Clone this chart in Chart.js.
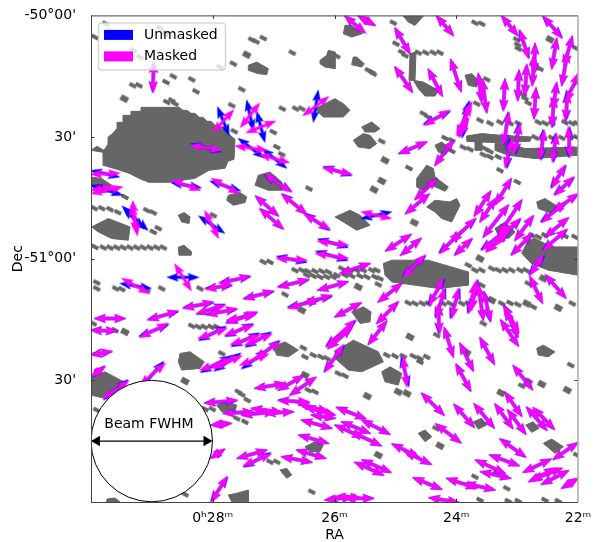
<!DOCTYPE html>
<html><head><meta charset="utf-8">
<script src="https://cdn.jsdelivr.net/npm/chart.js@4"></script>
<style>html,body{margin:0;padding:0;background:#fff}canvas{display:block}</style>
</head><body><canvas id="c" width="596" height="542"></canvas>
<script>
// Map units: 0..487 across the field on each axis; 121.75 units = 2m of RA = 30' of Dec.
const raTickValues=[121.75,243.5,365.25,487];
const raTickLabels=['0ʰ28ᵐ','26ᵐ','24ᵐ','22ᵐ'];
const decTickValues=[0,121.75,243.5,365.25];
const decTickLabels=["-50°00'","30'","-51°00'","30'"];
// polarisation vectors: [x1,y1,x2,y2,rotation of the unmasked vector relative to the masked one, degrees]
const vectors=[
[62.3,46.7,62.3,76.7,3],[142.3,95,122.3,116.7,-65],[168.3,88.3,149.7,111.7,-51],[184,106,155.7,117.3,-83],
[100,130,130,135,5],[144.7,130.7,175.7,135,29],[169,139.3,198,147.3,23],[232.3,152.7,260.7,159,5],
[0,159,28.3,158,15],[0.7,178.3,31.3,171.7,30],[0,175,22,171.7,22],[41.7,186,46.3,220,-39],[40,190,45.7,216.7,-32],
[81.3,165,109,175,-10],[120.7,163.3,148,178.3,-11],[114,196,127.3,222.7,-30],[174,159,200,176.7,-3],
[164.7,181,187.3,200.7,0],[169,194,192.3,213.3,2],[190.7,179.3,215.7,198.3,3],[213.3,199.3,239,214,5],
[212.3,100,237.3,81.7,-45],[227,226,257,230,8],[224.7,238.3,257,243,8],
[254,0.7,274,17.3,0],[267.3,0.7,284,10,0],[345.7,0.7,362.3,20,0],[304,12.7,319,38.3,0],[304,51.7,321.3,76.7,0],
[337.3,54,351.3,80.7,0],[359.7,44.3,370,76,0],[387.3,58.3,390.7,86.7,0],[391.3,64,395.7,97.3,0],[414,64,412.3,95,0],
[410.7,0.7,426.7,20,0],[429,15,437.3,42.7,-3],[452.3,0.7,470.7,22.7,-3],[444,28.3,443.3,58.3,0],[443,40,441.3,70,0],
[435.7,49.3,434,80,0],[428,55,426.7,85,0],[445,72.7,443,103.3,0],[465.7,23.3,460.7,53.3,0],[481.3,21,473.3,50,0],
[476.7,36.7,470.7,70,0],[465.7,67.3,462.3,93.3,0],[463.3,81.7,460.7,111.7,-2],[477.3,77.3,474,105,-5],[486.7,58.3,475.7,86.7,10],
[358.3,95,333.3,110,5],[380.7,86.7,365.7,120,-8],[378.7,90,369,121.7,-8],[377.3,103.3,367.3,120,0],[362.3,125,344,150,0],
[335.7,126.7,308,138.3,0],[418,97.3,412.3,129.3,-3],[429,108.3,423.3,138.3,-5],[420.7,124,414,152.3,-8],[453.3,115,449,144,-5],
[465.7,118.3,461.3,146.7,-5],[477.3,111.7,479,141.7,5],[474,150,460.7,172.7,5],[482.3,161.7,464,180,5],[345.7,163.3,324,184.3,0],
[338,179,314.7,198.3,0],[270.7,196.7,300,203.3,-25],[320,219.3,294.7,235.7,0],[330,223.3,309.7,240,0],[420,163.3,404.7,189.3,2],
[399.7,176,383.3,200.7,0],[404.7,183.3,389,206.7,0],[486.7,178.3,462.3,196.7,3],[474,186.7,450.7,207.3,5],
[417.3,190,392.3,221.7,0],[430.7,185,407.3,220,0],[429,203.3,404,230,3],[442.3,200.7,424,225,0],[420.7,210,390.7,235,3],
[417.3,216.7,395.7,236.7,3],[384,203.3,360.7,226.7,3],[380.7,223.3,364,240,3],[440.7,218.3,420.7,240,3],[477.3,202.7,454,221.7,0],
[475.7,214,452.3,235,3],[369,216.7,349,238.3,5],[334,240,312.3,261.7,3],[279,248.3,249,258.3,0],[256.7,266.7,227,275,0],
[310.7,268.3,287.3,286.7,0],[307.3,286.7,285.7,308.3,0],[295.7,306,277.3,329.3,0],[270,287.7,244,301.7,0],[264,305,235.7,331.7,3],
[260.7,312.7,237,333.3,0],[252.3,330,234,356.7,3],[352.3,263.3,338.3,290,5],[353.3,273.3,345.7,302.7,5],[346.7,290,349,318.3,5],
[367.3,273.3,360.7,303.3,6],[385.7,265,380.7,295,5],[387.3,270,392.3,305,0],[384,268,378,298,5],[392.3,276.7,400,306,3],
[412.3,290,428,317.3,2],[414,295,427.3,321.7,2],[409.7,305,427.3,330.7,0],[353.3,312.7,362.3,341.7,0],[369,328.3,382.3,355.7,0],
[389,322.7,403.3,349,0],[364.7,349.3,380,375.7,2],[312.3,341.7,315.7,371.7,-8],[422.3,350.7,441.3,374.3,0],[330.7,378.3,353,400,0],
[363,389.3,383.3,412.3,0],[383.3,389,403,412.7,0],[414,377.3,430.7,401,0],[404,389,421.7,413.3,0],[416.7,395,434.7,419,0],
[435.7,392.3,455.7,415,0],[442.3,392.7,463.3,414.3,0],[454.7,260,474.7,282.7,0],[439,261.7,451.3,287.7,0],[452.3,240,439,260,6],
[245.7,392.7,274.7,403.3,2],[250.7,406.7,279,418.3,0],[270.7,405,299,419.3,0],[244,410,272,422.7,0],[260.7,416.7,290,430.7,0],
[345,409,369.7,427.7,0],[409,424.3,434.7,441.7,2],[301.3,429,327.3,441.7,0],[314,436.7,340,449.3,0],[399,440,428,450.7,0],
[384.7,445,414,458.3,0],[389.7,456.7,419.7,463.3,0],[264,447.3,292.3,460,0],[271.3,445,299.7,457.3,0],[322.3,462.7,350.7,474.3,0],
[355.7,463.3,385.7,473.3,0],[374,468.3,404,475,0],[432.3,457.3,460,444,0],[486.7,427.7,462.3,444.3,0],[438,466.7,464,453.3,0],
[450.7,469.3,477.3,455.7,0],[440.7,465,470.7,453.3,0],[470.7,473.3,487,463.3,0],[244,481.7,270,483,0],[254,483.3,282.3,483.3,0],
[338.3,482.7,367.3,487.3,0],[234,485,262,482,0],
[84,249.3,100,275,-58],[31.3,263.3,58,278.3,-20],[114.7,274.3,140.7,269.3,5],[129,268.3,159,260.7,3],[187.3,272.3,217.3,264,3],
[153,284,182.3,275.7,3],[197.3,293.3,227.3,284,5],[214,288.3,240.7,280,5],[185.7,243.3,215.7,245,8],[92.3,293.3,122.3,286.7,3],
[105.7,298.3,134,290,-3],[115.7,300,145.7,293.3,3],[135.7,308.3,165.7,296.7,3],[135.7,305,164,300,-5],[57.3,305,86.7,295.7,3],
[4,303.3,34,303.3,0],[0,315,25.7,316,0],[49,322.3,76.7,308.3,5],[107.3,323.3,135.7,313.3,-8],[134,320,162.3,310,-5],
[139.7,329.3,169,320,-8],[154,330,180.7,319,-8],[109,355,140.7,343.3,-8],[122.3,353.3,150.7,340.7,-10],[149,350,177.3,339,-15],
[164,343.3,189,326.7,-5],[0,340,20.7,336,3],[0,361.7,14,351.7,-5],[49,370,74,348.3,-8],[12.3,383.3,37.3,366,-5],
[164,373.3,194,368.3,0],[187.3,375,212.3,360.7,0],[199,380,224.7,362.3,0],[114,388.3,145.7,385,2],[187.3,385.7,218,386.7,3],
[207.3,388.3,237.3,396.7,0],[214,391.7,244,400,0],[132.3,398.3,162.3,396.7,0],[150.7,400,184,396.7,0],[160.7,393.3,190.7,397.3,0],
[174,398.3,202.3,396.7,0],[210.7,405,240.7,413.3,0],[220.7,400,244,403.3,0],[208,420,237.3,428.3,0],[205.7,435,234.7,443.3,0],
[190.7,441.7,220.7,447.3,0],[146.3,443.3,175.7,435,0],[152.3,450.7,180,439,-5],[120,410,140,408.3,0],[120,443.3,133.3,434,3],
[120.7,486.7,135.7,461.7,4]
];
// small mask cells, [x,y]
const maskCells=[
[4,21.7],[14.7,8.3],[41.7,70],[48,70],[82.3,61],[75,66.7],[100.7,64],[105,76],[150.7,74],[140.7,90],[201.3,37.3],[172.3,22.7],
[142.3,48.3],[129,51.7],[191.3,93.3],[204.7,93.3],[210.7,93.3],[182.3,116.7],[143.3,116],[185.7,131.7],[190.7,139],[218,173.3],
[34,181.7],[3.3,193],[10.7,193],[19,194],[26.7,197],[62.3,197.3],[55.7,195],[67.3,213],[62.3,216.7],[122.3,200],
[4,231.7],[12.3,232.3],[19,232.3],[25.7,232.3],[32.3,232.3],[39,232.3],[45.7,232.3],[52.3,232.3],[59,232.3],[65.7,232.3],[72.3,232.3],
[160.7,24.3],[165,26],[80.7,85],[75.7,86.7],[84,88.3],[69,12.7],[74,18.3],[42.3,35],[49,41.7],
[302.3,7.3],[384,7.3],[390.7,8.3],[305,28.3],[310.7,36.7],[327.3,37.3],[334.7,37.3],[342.3,37.3],[349,37.3],[314,40],
[277.3,55],[280.7,56.7],[282.3,58.3],[245.7,40.7],[425.7,24],[426.7,29.3],[427.3,33.3],[484.7,32.7],[449,53.3],[445,52],
[432.3,79.3],[437.3,87.7],[434,83],[385.7,88.3],[395.7,64],[332.3,98.3],[337.3,101.7],[290.7,126],[318,152.7],[409,155],[426.3,166.7],
[389,105],[399,108],[409,107],[419,108],[427.3,108],[447.3,107],[454,108],[460.7,108],[474,107],[480.7,108],[485.7,108],
[444,122],[452.3,122],[460.7,122.5],[470.7,122.5],[479,122],[485.7,122],[354,122.7],[360.7,125],[372.3,132],[379,134],[360.7,135.7],
[394,133.3],[399,136],[392.3,139.3],[399,141.7],[407.3,141.7],[440.7,220],[447.3,221.7],[454,220],[474,220.7],[484,221.7],
[204,255],[210.7,255],[216.7,256],[224,256],[230.7,256],[237.3,256.7],[215.7,260],[222.3,260.7],[229,261.7],[235.7,261.7],[242.3,261.7],
[250.7,253.3],[259,255],[265.7,255],[272.3,255],[280.7,255],[285.7,255],[245.7,260],[254,260],[260.7,260.7],[269,260.7],[275.7,261.7],[284,261.7],[289,263.3],[287.3,269.3],
[377.3,250],[384,255],[390.7,255],[400.7,253.3],[407.3,255],[414,255],[420.7,255],[429,255],[435,255],[390.7,270],[437.3,268.3],
[317.3,287.7],[324,288.3],[331.3,288.3],[337.3,288.3],[352.3,288.3],[359,288.3],[370.7,288.3],[377.3,288.3],
[410.7,288.3],[419,287.7],[442.3,291.7],[426.7,289.3],[481.3,288.3],[392.3,308.3],[345.7,320],
[295.7,340],[304,341],[312.3,341],[322.3,341],[329,343.3],[335.7,341.7],[329,346.7],[247.3,358.3],[254,360.7],
[479.7,350],[430.7,370.7],[345,413.3],[485.7,440],[405.7,457.3],[384,461.7],[415.7,473.3],[417.3,486],[427.3,486],[454,485],[467.3,486],[244,487],[389,485],
[5.7,267.3],[5.7,273.3],[24.7,273.3],[30.7,274],[70.7,273.3],[109,273.3],[55.7,275],[172.3,246.7],[179,246.7],[194,279.3],
[100.7,310.7],[107.3,311.7],[113.3,311.7],[120,311.7],[125.7,311.7],[2.3,308.3],[24,315],[130.7,338.3],[212.3,332.7],[214,341.7],[222.3,340],[230,341.7],[236,343.3],
[217.3,375],[224,376.7],[147.3,376.7],[150.7,379.3],[156.3,385],[114,394],[121.3,394],[5.7,395],[145.7,403.3],[154,406.7],[179,446.7],[185.7,446.7],[220.7,476.7],[94,479.3]
];
// larger mask cells, [x,y]
const maskCellsLarge=[
[33.3,83.3],[155.7,39.3],[459,24],[294,145],[290.7,165.7],[283,174.3],[323.3,207.3],[267.3,271.7],[389,243.3],[452.3,263.3],
[400.7,285],[435.7,288.3],[467.3,292.7],[319,321.7],[375.7,337.3],[307.3,376.7],[316,378.3],[276.3,381],[410,377.7],[437.3,366.7],
[450.7,369],[476.3,375],[349,430.7],[287.3,440],[34,316.7],[94,366],[210.7,295],[214,360]
];
// masked regions, outlines as flat x,y lists
const maskRegions=[
[0,135,6,131,13,135,17,129,17,122,22,118,26,113,26,107,32,107,32,100,40,100,40,96,50,96,50,92,88,92,92,95,96,95,100,98,104,98,108,102,112,102,116,106,120,106,124,110,128,110,131,114,135,114,138,119,144,124,143,144,137,146,134,153,118,155,104,163,78,167,58,167,50,164,38,158,26,154,12,150,12,137],
[157.3,50,165.7,46.7,177.3,53.3,175.7,59.3,167.3,58.3,157.3,55],
[229,45,235.7,40,237.3,35,244,36.7,244,53.3,234,51.7,229,48.3],
[224,93.3,234,88.3,244,83.3,252.3,88.3,259,95,252.3,101.7,232.3,101.7],
[167.3,160,179,156.7,190.7,166.7,190.7,175,177.3,175,164,170],
[137.3,180,149,177.3,155.7,181.7,154,187.3,142.3,190,135.7,185],
[87.3,200,93.3,197.3,99,201.7,98,208.3,90.7,206.7],
[0,161.7,10.7,163.3,20.7,170,14,175,0,170],
[7.3,208.3,17.3,203.3,39,211.7,37.3,225,20.7,223.3,7.3,216.7,0.7,211.7],
[87.3,232,93,230,100,236,100,240,88,240],
[254,10,260.7,10,272,18,260.7,21.7,252.3,18.3],
[312.3,0.7,332.3,0.7,324,10,317.3,6.7],
[319,38.3,325,36.7,324,65,318,65],
[322.3,65,332.3,66.7,347.3,75,344,80.7,334,80.7,327.3,73.3],
[262.3,41.7,265.7,41.7,273.3,48.3,270.7,51.7,260.7,49.3],
[374,60,380.7,58.3,387.3,65,385.7,71.7,377.3,70],
[270.7,111.7,280.7,106.7,289,113.3,284,116.7,274,116.7],
[262.3,125,272.3,118.3,279,120,285.7,128.3,279,133.3,267.3,131.7],
[375.7,120.7,390.7,118.3,410.7,120,440.7,121.7,439,126,410.7,127.3,387.3,126.7,375.7,126],
[384,125,390.7,125,390.7,135,384,135],
[404,128.3,417.3,128.3,434,133.3,487,131.7,487,140,444,143.3,417.3,140,404,135],
[344,130,350.7,126.7,359,133.3,354,140,347.3,136.7],
[325.7,163.3,335.7,150,342.3,153.3,344,161.7,357.3,171.7,354,176,340.7,170,334,176.7,325.7,171.7],
[335.7,191.7,344,185,359,186.7,365.7,183.3,369,190,360.7,206.7,350.7,203.3,344,196.7],
[244,201.7,259,195,269,200,279,210,265.7,215,252.3,206.7],
[445.7,186.7,454,183.3,467.3,191.7,460.7,198.3,447.3,193.3],
[437.3,225,444,223.3,460.7,231.7,487,231.7,487,260,457.3,255,440,248,430.7,238],
[404,213.3,414,206.7,424,216.7,417.3,223.3,407.3,220],
[292.3,248.3,300.7,245,337.3,245,377.3,256.7,377.3,270,347.3,273.3,300.7,266.7,294,260],
[260.7,296.7,272.3,291.7,280,296.7,279,306.7,269,308.3],
[244,336.7,262.3,325,287.3,336.7,292.3,346.7,270.7,356.7,257.3,355,244,343.3],
[182.3,331.7,194,326.7,207.3,335,197.3,341.7,185.7,340],
[290.7,356.7,299,351.7,310.7,358.3,307.3,370,294,366.7],
[445.7,333.3,452.3,330,464,336.7,457.3,341.7,447.3,340],
[382.3,406.7,390.7,403.3,395.7,410,387.3,414],
[434.7,410,442.3,406.7,448,413.3,440.7,417.3],
[327.3,418.3,334,415,340.7,421.7,334,426.7],
[452.3,428.3,460.7,424,472.3,431.7,464,438.3],
[89,338.3,99,336.7,113.3,346.7,109,353.3,90.7,355,87.3,346.7],
[125.7,390,135.7,386.7,145.7,390,144,396.7,130.7,396.7],
[214,431.7,224,426.7,232.3,430,229,436.7,219,436.7],
[189,455,195.7,453.3,200.7,460,195.7,463.3],
[137.3,480,145.7,478.3,157.3,475,157.3,486.7,140.7,486.7],
[0,363.3,14,356.7,35.7,368.3,14,383.3,0,380],
[15.7,487,16,484,24,483,29,487]
];
const beamCentre=[[60.75,426]];
const beamLine=[[6,426],[115.5,426]];

const GREY='#666666',BLUE='#0000ff',MAG='#ff00ff';
function cellImage(w,h,deg){
  const c=document.createElement('canvas');c.width=c.height=Math.ceil(Math.max(w,h))+4;
  const g=c.getContext('2d');g.translate(c.width/2,c.height/2);g.rotate(deg*Math.PI/180);
  g.fillStyle=GREY;g.fillRect(-w/2,-h/2,w,h);return c;
}
const arrowCache={};
function arrowImage(len,color){
  const key=color+Math.round(len*2);
  if(arrowCache[key])return arrowCache[key];
  const L=len/2+1.5,h=12.5,ha=10.5,hw=4.6,sw=1.5;
  const c=document.createElement('canvas');c.width=Math.ceil(len)+10;c.height=14;
  const g=c.getContext('2d');g.translate(c.width/2,c.height/2);
  const pts=[[L,0],[L-h,hw],[L-ha,sw],[-L+ha,sw],[-L+h,hw],[-L,0],[-L+h,-hw],[-L+ha,-sw],[L-ha,-sw],[L-h,-hw]];
  g.beginPath();pts.forEach((p,i)=>i?g.lineTo(p[0],p[1]):g.moveTo(p[0],p[1]));g.closePath();
  g.fillStyle=color;g.fill();
  return arrowCache[key]=c;
}
const geom=vectors.map(v=>({x:(v[0]+v[2])/2,y:(v[1]+v[3])/2,len:Math.hypot(v[2]-v[0],v[3]-v[1]),ang:Math.atan2(v[3]-v[1],v[2]-v[0])*180/Math.PI,d:v[4]}));
const toXY=a=>a.map(p=>({x:p[0],y:p[1]}));
const arrowDataset=(label,color,rot,order)=>({type:'scatter',label,order,data:geom.map(g=>({x:g.x,y:g.y})),
  pointStyle:geom.map(g=>arrowImage(g.len,color)),rotation:geom.map(rot),pointRadius:9,pointHoverRadius:9,backgroundColor:color,borderColor:color});
const datasets=[
 {type:'scatter',label:'Beam arrow',order:1,data:toXY(beamLine),showLine:true,borderColor:'#000',borderWidth:1.3,pointStyle:'triangle',rotation:[-90,90],pointRadius:6,pointBackgroundColor:'#000',pointBorderWidth:0},
 {type:'scatter',label:'Beam',order:2,data:toXY(beamCentre),pointStyle:'circle',pointRadius:60.75,pointHoverRadius:60.75,pointBackgroundColor:'#fff',pointBorderColor:'#000',pointBorderWidth:1},
 arrowDataset('Masked',MAG,g=>g.ang,3),
 arrowDataset('Unmasked',BLUE,g=>g.ang+g.d,4),
 {type:'scatter',label:'Mask cells',order:5,data:toXY(maskCells),pointStyle:cellImage(7.5,3.8,28),pointRadius:5,backgroundColor:GREY},
 {type:'scatter',label:'Mask cells large',order:5,data:toXY(maskCellsLarge),pointStyle:cellImage(8,6,28),pointRadius:6,backgroundColor:GREY}
];
maskRegions.forEach((r,i)=>{
  const pts=[];for(let k=0;k<r.length;k+=2)pts.push({x:r[k],y:r[k+1]});pts.push({x:r[0],y:r[1]});
  datasets.push({type:'scatter',label:'Mask region '+i,order:6,data:pts,showLine:true,fill:'shape',tension:0,borderColor:GREY,borderWidth:1,backgroundColor:GREY,pointRadius:0});
});
const font={family:'"DejaVu Sans"',size:14};
const titleFont={family:'"DejaVu Sans"',size:14,lineHeight:1};
const frame={id:'frame',afterDatasetsDraw(chart){
  const {ctx,chartArea:a,scales:{x,y}}=chart;
  ctx.save();
  ctx.fillStyle='#000';ctx.font='14px "DejaVu Sans"';ctx.textAlign='center';ctx.textBaseline='middle';
  ctx.fillText('Beam FWHM',x.getPixelForValue(58),y.getPixelForValue(409));
  // inward ticks
  ctx.strokeStyle='#333';ctx.lineWidth=1;ctx.beginPath();
  raTickValues.slice(0,3).forEach(v=>{const p=Math.round(x.getPixelForValue(v))+.5;ctx.moveTo(p,a.top);ctx.lineTo(p,a.top+3.5);ctx.moveTo(p,a.bottom);ctx.lineTo(p,a.bottom-3.5);});
  decTickValues.slice(1).forEach(v=>{const p=Math.round(y.getPixelForValue(v))+.5;ctx.moveTo(a.left,p);ctx.lineTo(a.left+3.5,p);ctx.moveTo(a.right,p);ctx.lineTo(a.right-3.5,p);});
  ctx.stroke();
  ctx.strokeStyle='#444';ctx.lineWidth=1;ctx.beginPath();
  ctx.moveTo(a.left+.5,a.top);ctx.lineTo(a.left+.5,a.bottom);ctx.moveTo(a.left,a.bottom+.5);ctx.lineTo(a.right,a.bottom+.5);ctx.moveTo(a.left,a.top+.5);ctx.lineTo(a.right,a.top+.5);ctx.stroke();
  ctx.strokeStyle='#aaa';ctx.lineWidth=1.5;ctx.beginPath();ctx.moveTo(a.right,a.top);ctx.lineTo(a.right,a.bottom);ctx.stroke();
  // legend
  const lx=a.left+7,ly=a.top+7,lw=127,lh=47;
  ctx.beginPath();ctx.roundRect(lx+.5,ly+.5,lw,lh,3);ctx.fillStyle='rgba(255,255,255,0.8)';ctx.fill();ctx.strokeStyle='rgba(204,204,204,0.8)';ctx.stroke();
  const items=[['Unmasked',BLUE,19.5],['Masked',MAG,41]];
  ctx.textAlign='left';
  items.forEach(([t,c,o])=>{ctx.fillStyle=c;ctx.fillRect(a.left+13,a.top+o-5,29,10);ctx.fillStyle='#000';ctx.fillText(t,a.left+53,a.top+o);});
  ctx.restore();
}};
new Chart(document.getElementById('c'),{
 type:'scatter',data:{datasets},plugins:[frame],
 options:{responsive:false,animation:false,
  layout:{autoPadding:false,padding:{left:0,top:15,right:18,bottom:0}},
  plugins:{legend:{display:false},tooltip:{enabled:false}},
  scales:{
   x:{type:'linear',min:0,max:487,grid:{display:false},border:{display:false},
      title:{display:true,text:'RA',font:titleFont,color:'#000',padding:{top:0,bottom:0}},
      afterBuildTicks(s){s.ticks=raTickValues.map(value=>({value}));},
      afterFit(s){s.height=40;},
      ticks:{autoSkip:false,maxRotation:0,minRotation:0,font,color:'#000',padding:0,callback:(v)=>raTickLabels[raTickValues.indexOf(v)]}},
   y:{type:'linear',min:0,max:487,reverse:true,grid:{display:false},border:{display:false},
      title:{display:true,text:'Dec',font:titleFont,color:'#000',padding:{top:11,bottom:0}},
      afterBuildTicks(s){s.ticks=decTickValues.map(value=>({value}));},
      afterFit(s){s.width=91;},
      ticks:{autoSkip:false,font,color:'#000',padding:7,callback:(v)=>decTickLabels[decTickValues.indexOf(v)]}}
  }
 }
});
</script></body></html>
